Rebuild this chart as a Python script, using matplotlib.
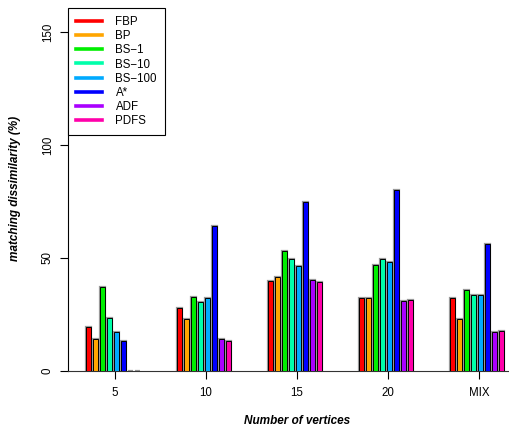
import numpy as np
import matplotlib
matplotlib.use("Agg")
import matplotlib.pyplot as plt
from matplotlib.lines import Line2D

plt.rcParams['font.family'] = ['Liberation Sans', 'DejaVu Sans']

# data
groups = ["5", "10", "15", "20", "MIX"]
methods = ["FBP", "BP", "BS\u22121", "BS\u221210", "BS\u2212100", "A*", "ADF", "PDFS"]
colors = ["#FF0000", "#FFA500", "#00EE00", "#00FFAA", "#00AAFF", "#0000FF", "#AA00FF", "#FF00AA"]

fbp = [19.3, 27.7, 39.7, 32.4, 32.4]
bp = [14.0, 23.0, 41.6, 32.4, 23.2]
bs1 = [37.0, 32.6, 53.0, 47.0, 35.7]
bs10 = [23.4, 30.4, 49.4, 49.4, 33.8]
bs100 = [17.4, 32.2, 46.5, 48.4, 33.8]
astar = [13.4, 64.0, 74.9, 80.1, 56.3]
adf = [0.0, 14.0, 40.1, 30.8, 17.4]
pdfs = [0.0, 13.4, 39.5, 31.3, 17.8]

series = [fbp, bp, bs1, bs10, bs100, astar, adf, pdfs]

W, H = 509, 432
fig = plt.figure(figsize=(W / 100, H / 100), dpi=100)

# axes placed in pixel terms (left spine at 68px, baseline at 371px)
left_px, right_px, top_px, bot_px = 68, 520, 8, 371
ax = fig.add_axes([left_px / W, (H - bot_px) / H,
                   (right_px - left_px) / W, (bot_px - top_px) / H])

period = len(methods) + 5  # bars per group + gap
gx = np.arange(len(groups)) * period
for i, (vals, c) in enumerate(zip(series, colors)):
    ax.bar(gx + i + 0.5, vals, width=0.72, color=c,
           edgecolor="#999999", linewidth=1.6, zorder=2)
    ax.bar(gx + i + 0.5, vals, width=0.72, color=c,
           edgecolor="black", linewidth=0.7, zorder=3)

ax.set_xlim(-17 / 7, (right_px - 85) / 7)
ax.set_ylim(0, (bot_px - top_px) / 2.26)

ax.set_xticks(gx + 4.3)
ax.set_xticklabels(groups, fontsize=8.3)
ax.set_yticks([0, 50, 100, 150])
ax.set_yticklabels(["0", "50", "100", "150"], fontsize=8.3,
                   rotation=90, va="center")
ax.tick_params(axis="x", length=5.8, width=0.8, pad=5.5)
ax.tick_params(axis="y", length=5.8, width=0.8, pad=4.5)

for s in ["top", "right"]:
    ax.spines[s].set_visible(False)
ax.spines["left"].set_bounds(0, 150)
ax.spines["left"].set_linewidth(0.8)
ax.spines["bottom"].set_linewidth(0.8)
ax.spines["bottom"].set_color("#333333")

handles = [Line2D([0], [0], color=c, lw=2.6) for c in colors]
leg = ax.legend(handles, methods, loc="upper left", bbox_to_anchor=(0, 1),
                borderaxespad=0, fontsize=8.3, frameon=True, fancybox=False,
                edgecolor="black", framealpha=1, handlelength=2.2,
                handletextpad=1.2, labelspacing=0.18, borderpad=0.72)
leg.get_frame().set_linewidth(0.8)

fig.text(15 / W, 1 - 188 / H, "matching dissimilarity (%)", rotation=90,
         ha="center", va="center", fontsize=8.5, fontweight="bold",
         fontstyle="italic")
fig.text(297 / W, 1 - 421 / H, "Number of vertices", ha="center",
         va="center", fontsize=8.5, fontweight="bold", fontstyle="italic")

fig.savefig("out.png", dpi=100)
